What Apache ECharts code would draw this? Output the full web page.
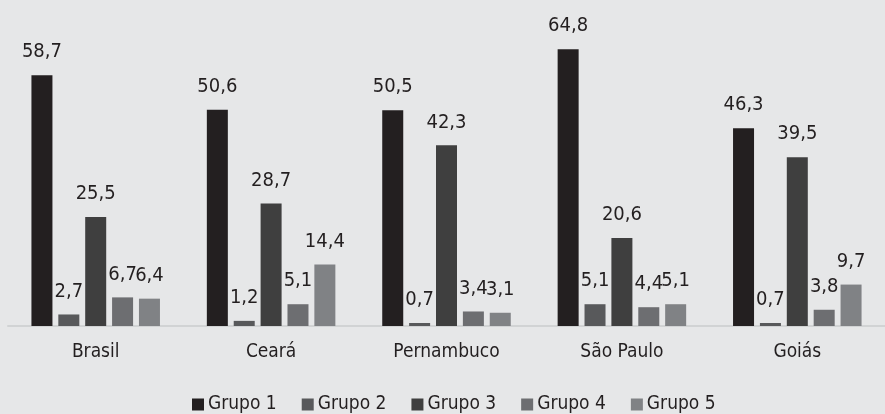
<!DOCTYPE html>
<html>
<head>
<meta charset="utf-8">
<style>
  html, body { margin: 0; padding: 0; background: #e6e7e8; }
  #chart { width: 885px; height: 414px; }
</style>
<script src="https://cdn.jsdelivr.net/npm/echarts@6/dist/echarts.min.js"></script>
</head>
<body>
<div id="chart"></div>
<script>
// Regions shown on the category axis
const regions = ['Brasil', 'Ceará', 'Pernambuco', 'São Paulo', 'Goiás'];

// Percentages per group, one value per region
const grupo1 = [58.7, 50.6, 50.5, 64.8, 46.3];
const grupo2 = [2.7, 1.2, 0.7, 5.1, 0.7];
const grupo3 = [25.5, 28.7, 42.3, 20.6, 39.5];
const grupo4 = [6.7, 5.1, 3.4, 4.4, 3.8];
const grupo5 = [6.4, 14.4, 3.1, 5.1, 9.7];

const groupNames = ['Grupo 1', 'Grupo 2', 'Grupo 3', 'Grupo 4', 'Grupo 5'];
const groupValues = [grupo1, grupo2, grupo3, grupo4, grupo5];
const groupColors = ['#231f20', '#58595b', '#3f3f3f', '#6d6e71', '#808285'];

const FONT = '"DejaVu Sans Condensed", "Liberation Sans Narrow", sans-serif';

const chart = echarts.init(document.getElementById('chart'));

const series = groupNames.map((name, i) => ({
  name: name,
  type: 'bar',
  data: groupValues[i],
  barWidth: 21,
  barGap: '28%',
  itemStyle: { color: groupColors[i] },
  label: {
    show: true,
    position: 'top',
    distance: 13,
    color: '#231f20',
    fontFamily: FONT,
    fontSize: 20,
    formatter: p => String(p.value).replace('.', ',')
  }
}));

chart.setOption({
  backgroundColor: '#e6e7e8',
  animation: false,
  grid: { left: 8, right: 0, top: 27, bottom: 88 },
  legend: {
    data: groupNames,
    left: 187,
    top: 390,
    itemWidth: 12,
    itemHeight: 12,
    itemGap: 25,
    icon: 'rect',
    textStyle: { fontFamily: FONT, fontSize: 19, color: '#231f20', padding: [0, 0, 0, -1] }
  },
  xAxis: {
    type: 'category',
    data: regions,
    axisLine: { lineStyle: { color: '#d1d3d4', width: 2 } },
    axisTick: { show: false },
    axisLabel: { fontFamily: FONT, fontSize: 19, color: '#231f20', margin: 17 }
  },
  yAxis: {
    type: 'value',
    min: 0,
    max: 70,
    show: false,
    splitLine: { show: false }
  },
  series: series
});
</script>
</body>
</html>
